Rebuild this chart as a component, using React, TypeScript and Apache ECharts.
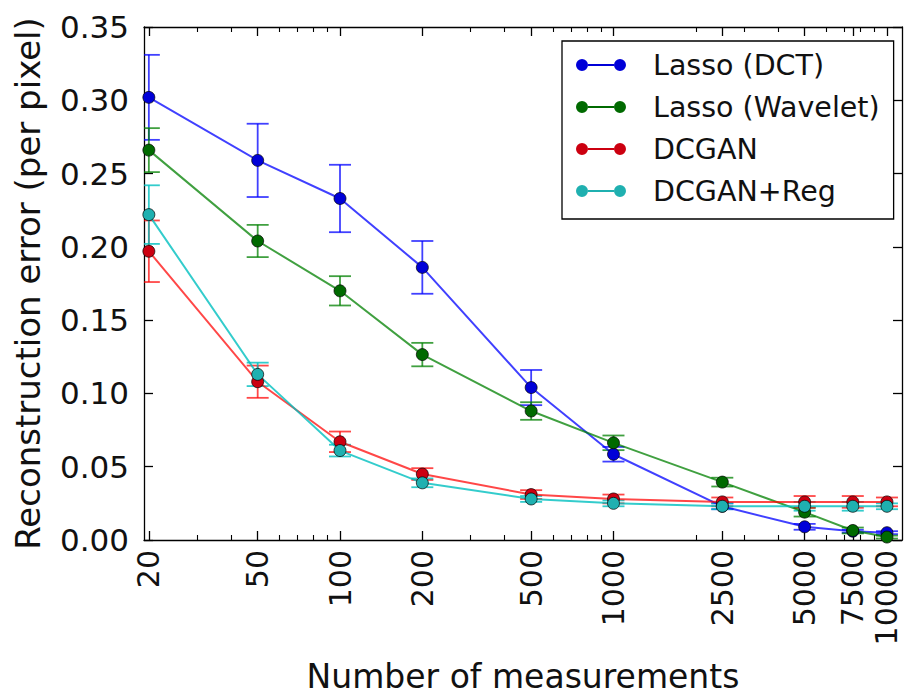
import React, { useEffect, useRef } from "react";
import * as echarts from "echarts";

// ---- data ----
const measurements = [20, 50, 100, 200, 500, 1000, 2500, 5000, 7500, 10000];
const minorTickValues = [30, 40, 60, 70, 80, 90, 300, 400, 600, 700, 800, 900, 2000, 3000, 4000, 6000, 7000, 8000, 9000];
const yTickStep = 0.05;

const seriesNames = ["Lasso (DCT)", "Lasso (Wavelet)", "DCGAN", "DCGAN+Reg"];

const lassoDct = [0.302, 0.259, 0.233, 0.186, 0.104, 0.0585, 0.023, 0.009, 0.006, 0.005];
const lassoDctErr = [0.029, 0.025, 0.023, 0.018, 0.012, 0.005, 0.002, 0.002, 0.001, 0.001];

const lassoWavelet = [0.266, 0.204, 0.17, 0.1265, 0.088, 0.0663, 0.0395, 0.019, 0.0065, 0.002];
const lassoWaveletErr = [0.015, 0.011, 0.01, 0.008, 0.006, 0.005, 0.003, 0.003, 0.002, 0.001];

const dcgan = [0.197, 0.108, 0.067, 0.045, 0.031, 0.028, 0.026, 0.026, 0.026, 0.026];
const dcganErr = [0.021, 0.011, 0.007, 0.004, 0.003, 0.003, 0.003, 0.004, 0.004, 0.003];

const dcganReg = [0.222, 0.113, 0.061, 0.039, 0.028, 0.025, 0.023, 0.023, 0.023, 0.023];
const dcganRegErr = [0.02, 0.008, 0.004, 0.003, 0.002, 0.002, 0.002, 0.003, 0.003, 0.002];

const allValues = [lassoDct, lassoWavelet, dcgan, dcganReg];
const allErrors = [lassoDctErr, lassoWaveletErr, dcganErr, dcganRegErr];

// ---- styles ----
const lineColors = ["rgba(0,0,255,0.75)", "rgba(0,128,0,0.75)", "rgba(255,0,0,0.72)", "rgba(0,191,191,0.8)"];
const markerColors = ["#0000d8", "#006a00", "#cc0010", "#1fb0b0"];
const FONT = "DejaVu Sans";

const X_MIN = 19.2;
const X_MAX = 11350;

function fmtX(v: number) {
  return String(Math.round(v));
}

export default function App() {
  const ref = useRef<HTMLDivElement>(null);

  useEffect(() => {
    if (!ref.current) return;
    const chart = echarts.init(ref.current, null, { renderer: "svg" });

    const baseX = {
      type: "log" as const,
      logBase: 10,
      min: X_MIN,
      max: X_MAX,
      gridIndex: 0,
      splitLine: { show: false },
      minorTick: { show: false },
      minorSplitLine: { show: false },
    };

    const xAxes = [
      {
        ...baseX,
        position: "bottom",
        axisLine: { show: true, lineStyle: { color: "#000", width: 1.3 } },
        axisTick: { show: true, inside: true, length: 9, customValues: measurements, lineStyle: { color: "#000", width: 1.3 } },
        axisLabel: {
          show: true,
          customValues: measurements,
          rotate: 90,
          margin: 10,
          fontSize: 30,
          lineHeight: 24,
          fontFamily: FONT,
          color: "#111",
          formatter: (v: number) => fmtX(v),
        },
        name: "Number of measurements",
        nameLocation: "middle",
        nameGap: 120,
        nameTextStyle: { fontSize: 33, lineHeight: 33, fontFamily: FONT, color: "#111" },
      },
      {
        ...baseX,
        position: "bottom",
        axisLine: { show: false },
        axisTick: { show: true, inside: true, length: 5, customValues: minorTickValues, lineStyle: { color: "#000", width: 1.1 } },
        axisLabel: { show: false },
      },
      {
        ...baseX,
        position: "top",
        axisLine: { show: true, lineStyle: { color: "#000", width: 1.3 } },
        axisTick: { show: true, inside: true, length: 9, customValues: measurements, lineStyle: { color: "#000", width: 1.3 } },
        axisLabel: { show: false },
      },
      {
        ...baseX,
        position: "top",
        axisLine: { show: false },
        axisTick: { show: true, inside: true, length: 5, customValues: minorTickValues, lineStyle: { color: "#000", width: 1.1 } },
        axisLabel: { show: false },
      },
    ];

    const baseY = {
      type: "value" as const,
      min: 0,
      max: 0.35,
      interval: yTickStep,
      gridIndex: 0,
      splitLine: { show: false },
    };

    const yAxes = [
      {
        ...baseY,
        position: "left",
        axisLine: { show: true, lineStyle: { color: "#000", width: 1.3 } },
        axisTick: { show: true, inside: true, length: 9, lineStyle: { color: "#000", width: 1.3 } },
        axisLabel: {
          show: true,
          margin: 15,
          fontSize: 31,
          fontFamily: FONT,
          color: "#111",
          formatter: (v: number) => v.toFixed(2),
        },
        name: "Reconstruction error (per pixel)",
        nameLocation: "middle",
        nameGap: 99,
        nameTextStyle: { fontSize: 34, fontFamily: FONT, color: "#111" },
      },
      {
        ...baseY,
        position: "right",
        axisLine: { show: true, lineStyle: { color: "#000", width: 1.3 } },
        axisTick: { show: true, inside: true, length: 9, lineStyle: { color: "#000", width: 1.3 } },
        axisLabel: { show: false },
      },
    ];

    const series: any[] = [];
    seriesNames.forEach((name, si) => {
      const vals = allValues[si];
      const errs = allErrors[si];
      const color = lineColors[si];
      series.push({
        type: "custom",
        name: name + " error",
        xAxisIndex: 0,
        yAxisIndex: 0,
        clip: true,
        silent: true,
        z: 2,
        data: measurements.map((m, i) => [m, vals[i] - errs[i], vals[i] + errs[i]]),
        encode: { x: 0, y: [1, 2] },
        renderItem: (params: any, api: any) => {
          const x = api.value(0);
          const lo = api.coord([x, api.value(1)]);
          const hi = api.coord([x, api.value(2)]);
          const cap = 11;
          const style = { stroke: color, lineWidth: 1.8, fill: null };
          return {
            type: "group",
            children: [
              { type: "line", shape: { x1: lo[0], y1: lo[1], x2: hi[0], y2: hi[1] }, style },
              { type: "line", shape: { x1: lo[0] - cap, y1: lo[1], x2: lo[0] + cap, y2: lo[1] }, style },
              { type: "line", shape: { x1: hi[0] - cap, y1: hi[1], x2: hi[0] + cap, y2: hi[1] }, style },
            ],
          };
        },
      });
      series.push({
        type: "line",
        name,
        xAxisIndex: 0,
        yAxisIndex: 0,
        z: 2,
        data: measurements.map((m, i) => [m, vals[i]]),
        symbol: "circle",
        symbolSize: 12,
        showAllSymbol: true,
        lineStyle: { color, width: 2 },
        itemStyle: { color: markerColors[si], borderColor: "#000", borderWidth: 0.7 },
        emphasis: { disabled: true },
      });
    });

    const legendIcon =
      "path://M0,6A6,6,0,1,0,12,6A6,6,0,1,0,0,6ZM12,5L38,5L38,7L12,7ZM38,6A6,6,0,1,0,50,6A6,6,0,1,0,38,6Z";

    chart.setOption({
      animation: false,
      backgroundColor: "#fff",
      grid: { left: 144, right: 4, top: 27, bottom: 158, containLabel: false, outerBoundsMode: "none" },
      xAxis: xAxes,
      yAxis: yAxes,
      legend: {
        data: seriesNames,
        orient: "vertical",
        left: 562,
        top: 41,
        padding: [9, 14, 13, 14],
        itemWidth: 50,
        itemHeight: 12,
        itemGap: 12,
        icon: legendIcon,
        itemStyle: { borderWidth: 0 },
        backgroundColor: "#fff",
        borderColor: "#000",
        borderWidth: 1.3,
        borderRadius: 0,
        selectedMode: false,
        textStyle: {
          fontSize: 28.5,
          fontFamily: FONT,
          color: "#111",
          lineHeight: 30,
          padding: [0, 0, 0, 22],
        },
      },
      series,
    });

    return () => chart.dispose();
  }, []);

  return (
    <div
      ref={ref}
      style={{ position: "fixed", left: 0, top: 0, width: 906, height: 698, background: "#fff" }}
    />
  );
}
